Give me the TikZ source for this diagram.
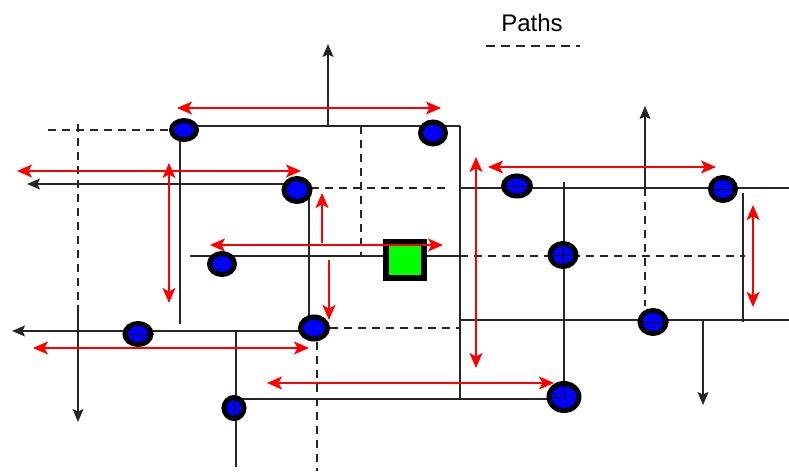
\documentclass[tikz,border=0pt]{standalone}
\usepackage{fontspec}
\setmainfont{Liberation Sans}
\usetikzlibrary{arrows.meta,shapes.geometric,backgrounds}
\begin{document}
\begin{tikzpicture}[x=1pt,y=-1pt,
  ln/.style={line width=1.3pt, black!85},
  dsh/.style={ln, dash pattern=on 8pt off 6pt},
  blk/.style={ln, -{Stealth[length=13pt,width=11pt,inset=2.5pt]}},
  rtip/.style={line width=1.4pt, draw=red, -{Stealth[length=15pt,width=13pt,inset=3.5pt]}},
  rarr/.style={line width=1.4pt, draw=red, {Stealth[length=15pt,width=13pt,inset=3.5pt]}-{Stealth[length=15pt,width=13pt,inset=3.5pt]}},
  dot/.style={ellipse, draw=black, line width=5pt, fill=blue, inner sep=0pt},
  inl/.style={line width=0.9pt, black},
  sqr/.style={rectangle, draw=black, line width=5.5pt, fill=green, inner sep=0pt, minimum width=38pt, minimum height=36pt}
]
\useasboundingbox (0,0) rectangle (789,471);

% legend
\node[anchor=base, font=\fontsize{24}{24}\selectfont] (leg) at (532,31) {Paths};
\coordinate (lg1) at (486,46);
\coordinate (lg2) at (580,46);
\draw[ln, dash pattern=on 9pt off 6pt] (lg1) -- (lg2);

% nodes
\node[dot, minimum width=25pt, minimum height=19pt] (n1) at (184,130) {};
\node[dot, minimum width=25pt, minimum height=22pt] (n2) at (433,133) {};
\node[dot, minimum width=26pt, minimum height=23pt] (n3) at (297,190) {};
\node[dot, minimum width=25pt, minimum height=21pt] (n4) at (222,264) {};
\node[sqr] (sq) at (405,260) {};
\node[dot, minimum width=26pt, minimum height=21pt] (n6) at (138,334) {};
\node[dot, minimum width=27pt, minimum height=22pt] (n7) at (314,328) {};
\node[dot, minimum width=20pt, minimum height=21pt] (n8) at (234,408) {};
\node[dot, minimum width=27pt, minimum height=20pt] (n9) at (517,186) {};
\node[dot, minimum width=25pt, minimum height=23pt] (n10) at (723,189) {};
\node[dot, minimum width=26pt, minimum height=23pt] (n11) at (563,255) {};
\node[dot, minimum width=26pt, minimum height=23pt] (n12) at (653,322) {};
\node[dot, minimum width=30pt, minimum height=27pt] (n13) at (564,397) {};

% coordinates
\coordinate (c2) at (460,126);
\coordinate (c3) at (460,400);
\coordinate (c4) at (361,126);
\coordinate (c5) at (361,256);
\coordinate (c6) at (328,126);
\coordinate (c7) at (328,44);
\coordinate (c8) at (48,130);
\coordinate (c9) at (78,124);
\coordinate (c10) at (78,305);
\coordinate (c11) at (78,422);
\coordinate (c12) at (180,324);
\coordinate (c13) at (27,184);
\coordinate (c14) at (450,188);
\coordinate (c15) at (460,188);
\coordinate (c16) at (789,188);
\coordinate (c17) at (190,256);
\coordinate (c18) at (460,256);
\coordinate (c19) at (745,256);
\coordinate (c20) at (564,182);
\coordinate (c21) at (309,0);
\coordinate (c22) at (645,188);
\coordinate (c23) at (645,106);
\coordinate (c24) at (645,306);
\coordinate (c25) at (743,193);
\coordinate (c26) at (743,322);
\coordinate (c27) at (460,320);
\coordinate (c28) at (789,320);
\coordinate (c29) at (703,321);
\coordinate (c30) at (703,405);
\coordinate (c31) at (12,331);
\coordinate (c32) at (460,328);
\coordinate (c33) at (236,331);
\coordinate (c34) at (236,467);
\coordinate (c35) at (236,399);
\coordinate (c36) at (317,471);

\begin{scope}[on background layer]
\draw[ln] ([yshift=4pt]n1.center) -- (c2);
\draw[ln] (c2) -- (c3);
\draw[dsh] (c4) -- (c5);
\draw[blk] (c6) -- (c7);
\draw[dsh] (c8) -- (n1);
\draw[dsh] (c9) -- (c10);
\draw[blk] (c10) -- (c11);
\draw[ln] (c12 |- n1) -- (c12);
\draw[blk] ([yshift=6pt]n3.center) -- (c13);
\draw[dsh] ([yshift=2pt]n3.center) -- (c14);
\draw[ln] (c15) -- (c16);
\draw[ln] (c17) -- (c18);
\draw[dsh] (c18) -- (c19);
\draw[ln] (c20) -- (n13);
\draw[ln] (c21 |- n3) -- (c21 |- n7);
\draw[blk] (c22) -- (c23);
\draw[dsh] (c22) -- (c24);
\draw[ln] (c25) -- (c26);
\draw[ln] (c27) -- (c28);
\draw[blk] (c29) -- (c30);
\draw[blk] ([yshift=-3pt]n7.center) -- (c31);
\draw[dsh] (n7) -- (c32);
\draw[ln] (c33) -- (c34);
\draw[ln] (c35) -- (c35 -| n13);
\draw[dsh] (c36 |- n7) -- (c36);
\end{scope}

% interior marks
\draw[inl] (n6.west) -- (n6.east);
\draw[inl] (n9.west) -- (n9.east);
\draw[inl] (n10.west) -- (n10.east);
\draw[inl] (n12.west) -- (n12.east);
\draw[inl] (n11.west) -- (n11.east);
\draw[inl] (n11.north) -- (n11.south);
\draw[inl] (n13.west) -- (n13.center) -- (n13.north);
\draw[inl] (n8.north) -- (n8.south);

% red paths
\coordinate (r1a) at (177,108); \coordinate (r1b) at (441,108);
\coordinate (r2a) at (17,171);  \coordinate (r2b) at (301,171);
\coordinate (r3a) at (169,163); \coordinate (r3b) at (169,303);
\coordinate (r4a) at (322,243); \coordinate (r4b) at (322,193);
\coordinate (r4c) at (329,260); \coordinate (r4d) at (329,320);
\coordinate (r5a) at (210,245); \coordinate (r5b) at (443,245);
\coordinate (r6a) at (476,157); \coordinate (r6b) at (476,368);
\coordinate (r7a) at (488,167); \coordinate (r7b) at (716,167);
\coordinate (r8a) at (753,205); \coordinate (r8b) at (753,307);
\coordinate (r9a) at (33,348);  \coordinate (r9b) at (309,348);
\coordinate (r10a) at (267,383); \coordinate (r10b) at (554,383);
\draw[rarr] (r1a) -- (r1b);
\draw[rarr] (r2a) -- (r2b);
\draw[rarr] (r3a) -- (r3b);
\draw[rtip] (r4a) -- (r4b);
\draw[rtip] (r4c) -- (r4d);
\draw[rarr] (r5a) -- (r5b);
\draw[rarr] (r6a) -- (r6b);
\draw[rarr] (r7a) -- (r7b);
\draw[rarr] (r8a) -- (r8b);
\draw[rarr] (r9a) -- (r9b);
\draw[rarr] (r10a) -- (r10b);
\end{tikzpicture}
\end{document}
